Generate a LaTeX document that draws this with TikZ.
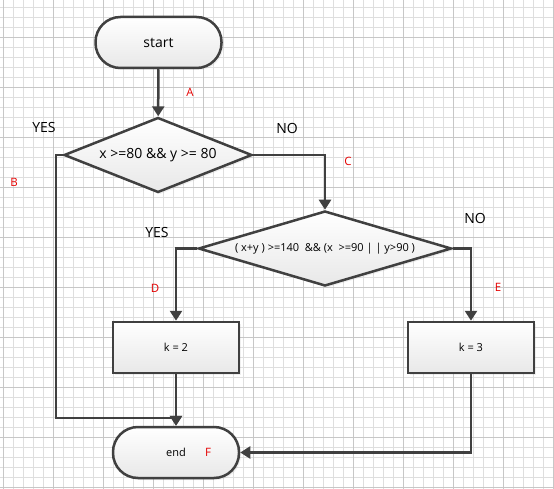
\documentclass[tikz,border=0pt]{standalone}
\usepackage{fontspec}
\setmainfont{Open Sans}
\usetikzlibrary{arrows.meta,shapes.geometric,shadows}
\begin{document}
\begin{tikzpicture}[x=1pt,y=-1pt,font=\fontsize{14}{16}\selectfont,
  fillshade/.style={draw=black!75,line width=2.5pt,top color=white,bottom color=black!9,
    drop shadow={opacity=0.12,shadow xshift=2pt,shadow yshift=-2pt}},
  box/.style={fillshade,minimum width=126pt,minimum height=51pt,inner sep=0pt},
  term/.style={box,rounded corners=25pt},
  cond/.style={fillshade,diamond,inner sep=0pt},
  line/.style={draw=black!75,line width=2.5pt},
  arrow/.style={line,-{Triangle[length=10pt,width=12pt]}},
  tag/.style={text=red!90!black,font=\fontsize{11.5}{13}\selectfont},
  small/.style={font=\fontsize{11}{13}\selectfont}]
\useasboundingbox (0,0) rectangle (554,489);
\fill[white] (0,0) rectangle (554,489);

% grid
\foreach \x in {3,13,...,553} \draw[black!13,line width=0.6pt] (\x,0) -- (\x,489);
\foreach \y in {7,17,...,487} \draw[black!13,line width=0.6pt] (0,\y) -- (554,\y);
\foreach \x in {3,53,...,553} \draw[black!22,line width=0.7pt] (\x,0) -- (\x,489);
\foreach \y in {37,87,...,487} \draw[black!22,line width=0.7pt] (0,\y) -- (554,\y);

\node[term] (start) at (158.5,42.5) {start};
\node[cond,minimum width=188pt,minimum height=75pt,aspect=2.5] (test1) at (158,155) {x >=80 \&\& y >= 80};
\node[cond,minimum width=253pt,minimum height=75pt,aspect=3.6,small] (test2) at (325,248.5) {( x+y ) >=140\ \ \&\& (x\ \ >=90 | | y>90 )};
\node[box,small] (ktwo) at (176,347.5) {k = 2};
\node[box,small] (kthree) at (471,347.5) {k = 3};
\node[term,small] (end) at (176,452.5) {end};
\coordinate (leftbend) at (56,418);

\draw[arrow] (start) -- (test1);
\draw[arrow] (test1.west) -| (leftbend) -| (end.north);
\draw[arrow] (test1.east) -| (test2.north);
\draw[arrow] (test2.west) -| (ktwo.north);
\draw[arrow] (test2.east) -| (kthree.north);
\draw[arrow] (ktwo) -- (end);
\draw[arrow] (kthree.south) |- (end.east);

\node (yes1) at (44,128) {YES};
\node (no1) at (287,128) {NO};
\node (yes2) at (157,232) {YES};
\node (no2) at (475,218) {NO};

\node[tag] (tagA) at (190,92) {A};
\node[tag] (tagB) at (14,182) {B};
\node[tag] (tagC) at (348,161) {C};
\node[tag] (tagD) at (155,288) {D};
\node[tag] (tagE) at (498,287) {E};
\node[tag] (tagF) at (208,452) {F};
\end{tikzpicture}
\end{document}
